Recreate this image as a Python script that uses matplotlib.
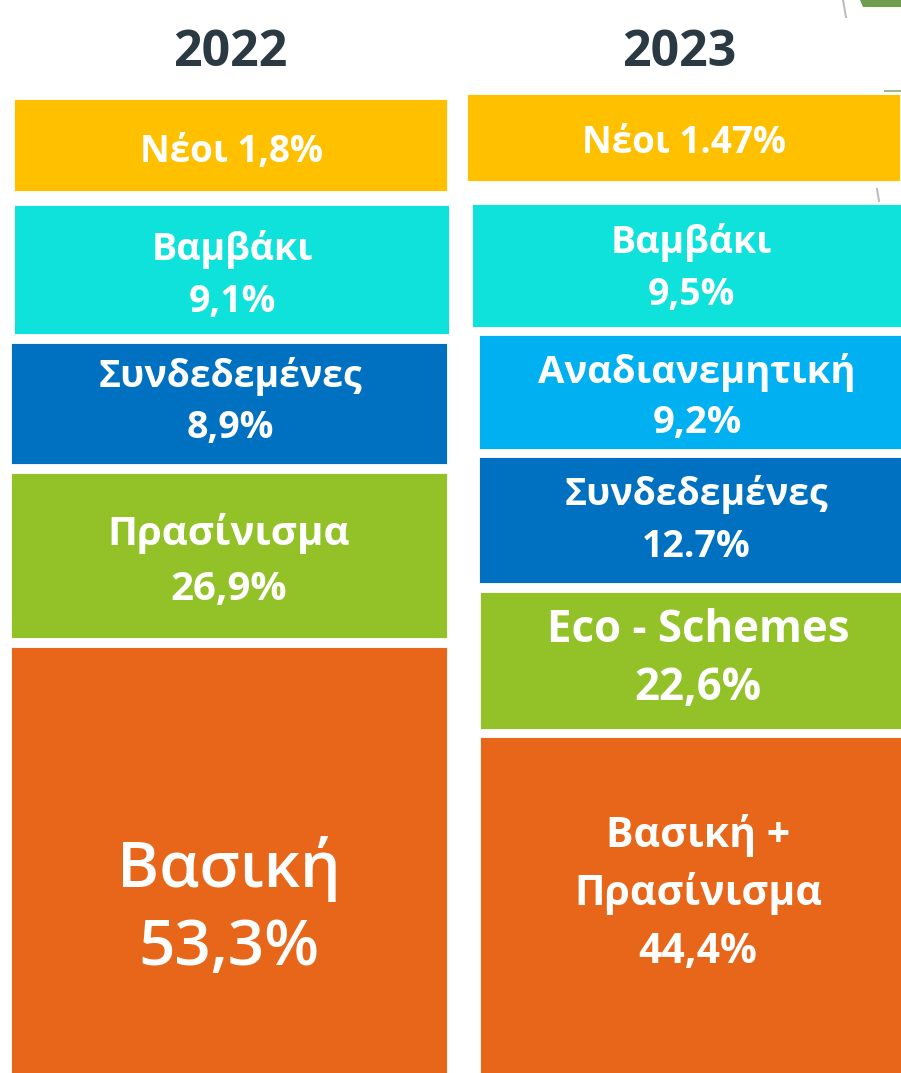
import matplotlib
matplotlib.use("Agg")
import matplotlib.pyplot as plt

# Data shown on the slide
years = ["2022", "2023"]

cats_2022 = ["Νέοι", "Βαμβάκι", "Συνδεδεμένες", "Πρασίνισμα", "Βασική"]
vals_2022 = ["1,8%", "9,1%", "8,9%", "26,9%", "53,3%"]

cats_2023 = ["Νέοι", "Βαμβάκι", "Αναδιανεμητική", "Συνδεδεμένες",
             "Eco - Schemes", "Βασική +\nΠρασίνισμα"]
vals_2023 = ["1.47%", "9,5%", "9,2%", "12.7%", "22,6%", "44,4%"]

# Colours
YELLOW = "#FFC000"
CYAN = "#0EE2DA"
LBLUE = "#00B0F0"
DBLUE = "#0070C0"
GREEN = "#92C227"
ORANGE = "#E86619"

colors_2022 = [YELLOW, CYAN, DBLUE, GREEN, ORANGE]
colors_2023 = [YELLOW, CYAN, LBLUE, DBLUE, GREEN, ORANGE]

# Layout of the boxes in pixels: (left, right, top, bottom)
boxes_2022 = [(14, 447, 99, 191), (14, 449, 205, 334), (11, 447, 343, 464),
              (11, 447, 473, 638), (11, 447, 647, 1073)]
boxes_2023 = [(467, 900, 94, 181), (472, 901, 204, 327), (479, 901, 335, 449),
              (479, 901, 457, 583), (480, 901, 592, 729), (480, 901, 737, 1073)]

# text layout: x centre, first baseline, line step, font size, weight
text_2022 = [(231, 162, 0, 26.5, "bold"), (232, 260, 52, 27, "bold"),
             (230, 387, 51, 27, "bold"), (229, 545, 55, 29, "bold"),
             (229, 887, 78, 46, "semibold")]
text_2023 = [(684, 153, 0, 26.5, "bold"), (691, 253, 52, 27, "bold"),
             (697, 383, 50, 27.5, "bold"), (696, 505, 52, 27, "bold"),
             (698, 642, 58, 31.5, "bold"), (698, 847, 58, 29.5, "bold")]

plt.rcParams['font.family'] = ['Open Sans', 'DejaVu Sans']

fig = plt.figure(figsize=(9.01, 10.73), dpi=100)
ax = fig.add_axes([0, 0, 1, 1])
ax.set_xlim(0, 901)
ax.set_ylim(1073, 0)
ax.axis("off")


def draw_column(cats, vals, colors, boxes, texts):
    for cat, val, col, box, txt in zip(cats, vals, colors, boxes, texts):
        left, right, top, bottom = box
        ax.bar((left + right) / 2, bottom - top, width=right - left, bottom=top,
               color=col, edgecolor="white", linewidth=0.6)
        x, y0, step, size, weight = txt
        if step == 0:
            lines = [cat + " " + val]
        else:
            lines = cat.split("\n") + [val]
        for i, line in enumerate(lines):
            ax.text(x, y0 + i * step, line, ha="center", va="baseline",
                    color="white", fontsize=size, fontweight=weight)


draw_column(cats_2022, vals_2022, colors_2022, boxes_2022, text_2022)
draw_column(cats_2023, vals_2023, colors_2023, boxes_2023, text_2023)

# year headers
for yr, xc in zip(years, [230, 679]):
    ax.text(xc, 66, yr, ha="center", va="baseline", color="#2B3A42",
            fontsize=36, fontweight="bold")

# bits of the background artwork in the top-right corner
ax.fill([860, 901, 901, 863], [0, 0, 7, 7], color="#6E9E4E", lw=0)
ax.plot([843, 846], [0, 17], color="#BDBDBD", lw=1.5)
ax.plot([885, 901], [90.5, 90.5], color="#9DBB86", lw=1.5)
ax.plot([877, 879], [189, 201], color="#BDBDBD", lw=1.5)

fig.savefig("out.png", dpi=100)
